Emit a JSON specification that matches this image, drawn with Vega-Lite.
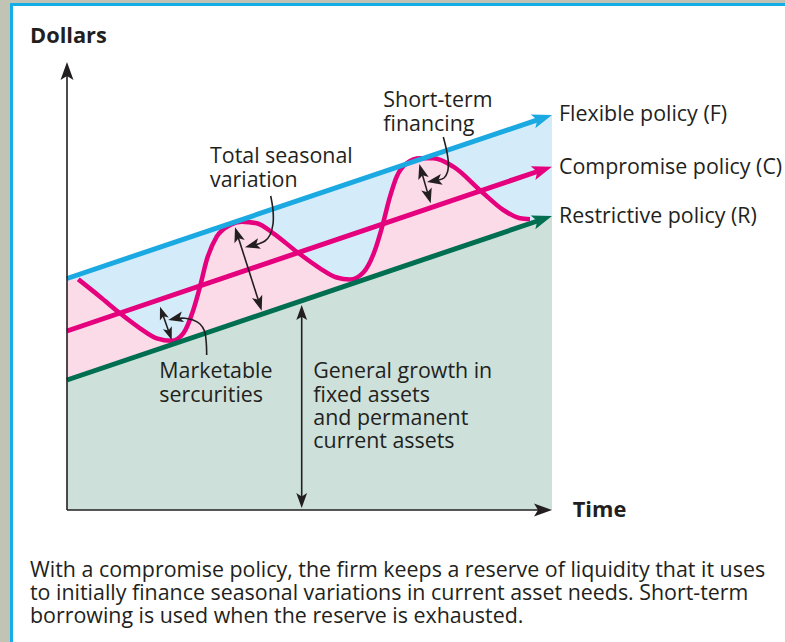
{
  "$schema": "https://vega.github.io/schema/vega-lite/v6.json",
  "width": 785,
  "height": 642,
  "autosize": {"type": "fit", "contains": "padding"},
  "padding": 0,
  "background": "#c1c3b5",
  "config": {"view": {"stroke": null}},
  "datasets": {
    "border": [{"t": -11.4, "t2": 143.6, "d": 101.4, "d2": -26.4}],
    "inner": [{"t": -10.8, "t2": 143.6, "d": 100.8, "d2": -26.4}],
    "band": [{"t": 0, "d": 46.3, "d2": 26}, {"t": 97, "d": 79.0, "d2": 58.8}],
    "base": [{"t": 0, "d": 26, "d2": 0}, {"t": 97, "d": 58.8, "d2": 0}],
    "wave": [
      {"t": 0, "d": 46.0, "g": 26.0},
      {"t": 2.26, "d": 46.14, "g": 26.76},
      {"t": 6.6, "d": 42.66, "g": 28.23},
      {"t": 10.6, "d": 39.34, "g": 29.58},
      {"t": 14.6, "d": 36.34, "g": 30.93},
      {"t": 17.94, "d": 34.34, "g": 32.06},
      {"t": 20.94, "d": 33.86, "g": 33.08},
      {"t": 23.26, "d": 35.34, "g": 33.86},
      {"t": 25.26, "d": 40.0, "g": 34.54},
      {"t": 26.6, "d": 44.66, "g": 34.99},
      {"t": 27.94, "d": 50.0, "g": 35.44},
      {"t": 29.94, "d": 54.66, "g": 36.12},
      {"t": 32.6, "d": 57.0, "g": 37.02},
      {"t": 34.94, "d": 57.66, "g": 37.81},
      {"t": 37.94, "d": 57.34, "g": 38.82},
      {"t": 41.26, "d": 55.34, "g": 39.95},
      {"t": 45.94, "d": 51.66, "g": 41.53},
      {"t": 50.6, "d": 48.34, "g": 43.1},
      {"t": 53.94, "d": 46.5, "g": 44.23},
      {"t": 56.6, "d": 46.1, "g": 45.13},
      {"t": 59.26, "d": 47.5, "g": 46.03},
      {"t": 61.6, "d": 52.0, "g": 46.82},
      {"t": 62.94, "d": 56.34, "g": 47.27},
      {"t": 64.6, "d": 62.66, "g": 47.83},
      {"t": 65.94, "d": 66.66, "g": 48.29},
      {"t": 67.94, "d": 69.34, "g": 48.96},
      {"t": 70.6, "d": 70.34, "g": 49.86},
      {"t": 73.26, "d": 70.34, "g": 50.76},
      {"t": 77.26, "d": 68.66, "g": 52.11},
      {"t": 82.94, "d": 63.66, "g": 54.03},
      {"t": 87.26, "d": 60.0, "g": 55.49},
      {"t": 90.6, "d": 58.34, "g": 56.62},
      {"t": 92.6, "d": 58.14, "g": 57.3}
    ],
    "policy": [
      {"policy": "Flexible", "t": 0, "d": 46.3},
      {"policy": "Flexible", "t": 94.4, "d": 78.11},
      {"policy": "Compromise", "t": 0, "d": 35.8},
      {"policy": "Compromise", "t": 94.4, "d": 67.8},
      {"policy": "Restrictive", "t": 0, "d": 26},
      {"policy": "Restrictive", "t": 94.4, "d": 57.9}
    ],
    "policyHeads": [
      {"policy": "Flexible", "t": 95.1, "d": 78.36, "dir": 71.3},
      {"policy": "Compromise", "t": 95.1, "d": 68.02, "dir": 71.3},
      {"policy": "Restrictive", "t": 95.1, "d": 58.16, "dir": 71.3}
    ],
    "black": [
      {"id": "yaxis", "i": 0, "t": 0, "d": 0},
      {"id": "yaxis", "i": 1, "t": 0, "d": 87.5},
      {"id": "xaxis", "i": 0, "t": 0, "d": 0},
      {"id": "xaxis", "i": 1, "t": 95, "d": 0},
      {"id": "mk", "i": 0, "t": 19.03, "d": 39.43},
      {"id": "mk", "i": 1, "t": 20.51, "d": 35.23},
      {"id": "tsv", "i": 0, "t": 34.06, "d": 55.12},
      {"id": "tsv", "i": 1, "t": 38.48, "d": 41.28},
      {"id": "stf", "i": 0, "t": 70.88, "d": 67.76},
      {"id": "stf", "i": 1, "t": 72.32, "d": 62.78},
      {"id": "gg", "i": 0, "t": 46.94, "d": 39.5},
      {"id": "gg", "i": 1, "t": 46.94, "d": 1.9},
      {"id": "mkL", "i": 0, "t": 27.94, "d": 31.0},
      {"id": "mkL", "i": 1, "t": 27.84, "d": 33.6},
      {"id": "mkL", "i": 2, "t": 27.5, "d": 35.8},
      {"id": "mkL", "i": 3, "t": 26.6, "d": 37.2},
      {"id": "mkL", "i": 4, "t": 25.2, "d": 38.0},
      {"id": "mkL", "i": 5, "t": 23.6, "d": 38.35},
      {"id": "mkL", "i": 6, "t": 22.3, "d": 38.35},
      {"id": "tsvL", "i": 0, "t": 40.74, "d": 62.8},
      {"id": "tsvL", "i": 1, "t": 41.2, "d": 60.0},
      {"id": "tsvL", "i": 2, "t": 41.2, "d": 57.2},
      {"id": "tsvL", "i": 3, "t": 40.6, "d": 55.0},
      {"id": "tsvL", "i": 4, "t": 39.6, "d": 53.8},
      {"id": "tsvL", "i": 5, "t": 38.2, "d": 53.2},
      {"id": "tsvL", "i": 6, "t": 37.6, "d": 53.04},
      {"id": "stfL", "i": 0, "t": 75.26, "d": 74.6},
      {"id": "stfL", "i": 1, "t": 75.9, "d": 72.0},
      {"id": "stfL", "i": 2, "t": 76.26, "d": 69.6},
      {"id": "stfL", "i": 3, "t": 76.1, "d": 67.6},
      {"id": "stfL", "i": 4, "t": 75.4, "d": 66.4},
      {"id": "stfL", "i": 5, "t": 74.2, "d": 65.96}
    ],
    "axisHeads": [
      {"t": 0, "d": 87.8, "dir": 0},
      {"t": 95.2, "d": 0, "dir": 90}
    ],
    "heads": [
      {"t": 34.06, "d": 55.12, "dir": 342.2},
      {"t": 38.48, "d": 41.28, "dir": 162.2},
      {"t": 70.88, "d": 67.76, "dir": 343.8},
      {"t": 72.32, "d": 62.78, "dir": 163.8},
      {"t": 46.94, "d": 39.5, "dir": 0},
      {"t": 46.94, "d": 1.9, "dir": 180},
      {"t": 21.72, "d": 38.32, "dir": 258},
      {"t": 37.04, "d": 52.92, "dir": 255},
      {"t": 73.48, "d": 65.86, "dir": 260}
    ],
    "smallHeads": [
      {"t": 19.03, "d": 39.43, "dir": 340.7},
      {"t": 20.51, "d": 35.23, "dir": 160.7}
    ],
    "labels": [
      {"label": "Flexible policy (F)", "t": 98.4, "d": 77.86},
      {"label": "Compromise policy (C)", "t": 98.4, "d": 67.2},
      {"label": "Restrictive policy (R)", "t": 98.4, "d": 57.34},
      {"label": "Short-term", "t": 63.26, "d": 80.66},
      {"label": "financing", "t": 63.26, "d": 75.86},
      {"label": "Total seasonal", "t": 28.6, "d": 69.46},
      {"label": "variation", "t": 28.6, "d": 64.66},
      {"label": "Marketable", "t": 18.46, "d": 26.34},
      {"label": "sercurities", "t": 18.46, "d": 21.6},
      {"label": "General growth in", "t": 49.26, "d": 26.34},
      {"label": "fixed assets", "t": 49.26, "d": 21.66},
      {"label": "and permanent", "t": 49.26, "d": 17.0},
      {"label": "current assets", "t": 49.26, "d": 12.34},
      {"label": "With a compromise policy, the firm keeps a reserve of liquidity that it uses", "t": -7.4, "d": -13.34},
      {"label": "to initially finance seasonal variations in current asset needs.  Short-term", "t": -7.4, "d": -18.0},
      {"label": "borrowing is used when the reserve is exhausted.", "t": -7.4, "d": -22.66}
    ],
    "boldLabels": [
      {"label": "Dollars", "t": -7.4, "d": 93.34},
      {"label": "Time", "t": 101.14, "d": -1.34}
    ]
  },
  "encoding": {
    "x": {"field": "t", "type": "quantitative", "scale": {"domain": [-13.4, 143.6], "nice": false, "zero": false}, "axis": null},
    "y": {"field": "d", "type": "quantitative", "scale": {"domain": [-26.4, 102], "nice": false, "zero": false}, "axis": null}
  },
  "layer": [
    {
      "data": {"name": "border"},
      "mark": {"type": "rect", "color": "#13aee8", "opacity": 1},
      "encoding": {"x2": {"field": "t2"}, "y2": {"field": "d2"}}
    },
    {
      "data": {"name": "inner"},
      "mark": {"type": "rect", "color": "#ffffff", "opacity": 1},
      "encoding": {"x2": {"field": "t2"}, "y2": {"field": "d2"}}
    },
    {
      "data": {"name": "band"},
      "mark": {"type": "area", "color": "#d4ecf9", "opacity": 1},
      "encoding": {"y2": {"field": "d2"}}
    },
    {
      "data": {"name": "wave"},
      "mark": {"type": "area", "color": "#fbdbe8", "opacity": 1, "interpolate": "monotone"},
      "encoding": {"y2": {"field": "g"}}
    },
    {
      "data": {"name": "base"},
      "mark": {"type": "area", "color": "#cde0da", "opacity": 1},
      "encoding": {"y2": {"field": "d2"}}
    },
    {
      "data": {"name": "wave"},
      "transform": [{"filter": "datum.t > 1"}],
      "mark": {"type": "line", "color": "#e5007d", "strokeWidth": 4.5, "interpolate": "monotone"},
      "encoding": {}
    },
    {
      "data": {"name": "policy"},
      "mark": {"type": "line", "strokeWidth": 5},
      "encoding": {
        "color": {"field": "policy", "type": "nominal", "scale": {"domain": ["Flexible", "Compromise", "Restrictive"], "range": ["#1ba9e1", "#e5007d", "#006e50"]}, "legend": null},
        "detail": {"field": "policy"}
      }
    },
    {
      "data": {"name": "policyHeads"},
      "mark": {"type": "point", "shape": "M0,-1L0.72,1L0,0.55L-0.72,1Z", "filled": true, "opacity": 1, "size": 400, "strokeWidth": 0},
      "encoding": {
        "color": {"field": "policy", "type": "nominal", "scale": {"domain": ["Flexible", "Compromise", "Restrictive"], "range": ["#1ba9e1", "#e5007d", "#006e50"]}, "legend": null},
        "angle": {"field": "dir", "type": "quantitative", "scale": null}
      }
    },
    {
      "data": {"name": "black"},
      "mark": {"type": "line", "color": "#231f20", "strokeWidth": 1.6, "interpolate": "catmull-rom"},
      "encoding": {
        "detail": {"field": "id"},
        "order": {"field": "i"}
      }
    },
    {
      "data": {"name": "axisHeads"},
      "mark": {"type": "point", "shape": "M0,-1L0.72,1L0,0.55L-0.72,1Z", "filled": true, "opacity": 1, "size": 324, "strokeWidth": 0, "color": "#231f20"},
      "encoding": {"angle": {"field": "dir", "type": "quantitative", "scale": null}}
    },
    {
      "data": {"name": "heads"},
      "mark": {"type": "point", "shape": "M0,-1L0.72,1L0,0.55L-0.72,1Z", "filled": true, "opacity": 1, "size": 225, "strokeWidth": 0, "color": "#231f20"},
      "encoding": {"angle": {"field": "dir", "type": "quantitative", "scale": null}}
    },
    {
      "data": {"name": "smallHeads"},
      "mark": {"type": "point", "shape": "M0,-1L0.72,1L0,0.55L-0.72,1Z", "filled": true, "opacity": 1, "size": 169, "strokeWidth": 0, "color": "#231f20"},
      "encoding": {"angle": {"field": "dir", "type": "quantitative", "scale": null}}
    },
    {
      "data": {"name": "labels"},
      "mark": {"type": "text", "align": "left", "baseline": "alphabetic", "font": "Open Sans", "fontSize": 21.4, "color": "#231f20"},
      "encoding": {"text": {"field": "label"}}
    },
    {
      "data": {"name": "boldLabels"},
      "mark": {"type": "text", "align": "left", "baseline": "alphabetic", "font": "Open Sans", "fontSize": 21.8, "fontWeight": "bold", "color": "#231f20"},
      "encoding": {"text": {"field": "label"}}
    }
  ]
}
